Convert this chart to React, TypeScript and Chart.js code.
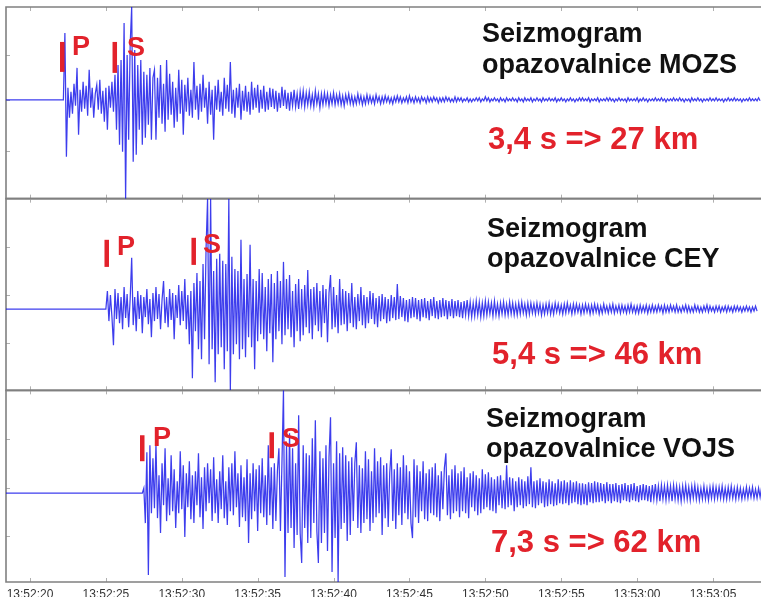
import React, { useEffect, useRef } from 'react';
import { Chart, registerables } from 'chart.js';

Chart.register(...registerables);

// ---- time axis (seconds after 13:52:00) ----
const clockHour = 13;
const clockMinute = 52;
const timeMin = 18.42;
const timeMax = 68.16;
const xTickValues = [20, 25, 30, 35, 40, 45, 50, 55, 60, 65];

// ---- stations ----
const stations = ['MOZS', 'CEY', 'VOJS'];
const onsetTimes = [22.2, 25.0, 27.4];
const sampleStep = 0.1;
const spDelays = ['3,4', '5,4', '7,3'];
const distancesKm = ['27', '46', '62'];
const pPickTimes = [22.11, 25.04, 27.38];
const sPickTimes = [25.57, 30.77, 35.91];

// ---- trace amplitudes, one sample every sampleStep s from onset ----
const mozsValues = [
  0, 67, -57, 12, -18, 8, -14, 16, -6, 32,
  -35, 10, -12, 18, -9, 14, -16, 30, -8, 12,
  -18, 6, 15, -10, 20, -14, 9, -22, 12, -30,
  14, -8, 18, -12, 25, -30, 35, -45, 40, -52,
  77, -99, 45, -40, 55, 93, -62, 50, -55, 35,
  -30, 40, -45, 28, -38, 25, -25, 32, -40, 22,
  30, -40, 22, -18, 35, -24, 16, -32, 40, -20,
  26, -15, 18, -28, 12, -22, 30, -14, 20, -35,
  15, -12, 22, -16, 10, -18, 38, -10, 14, -20,
  16, -12, 25, -8, 12, -24, 18, -15, 10, -40,
  14, -10, 20, -12, 8, -16, 22, -9, 15, -12,
  38, -14, 10, -18, 12, -8, 16, -20, 9, -11,
  14, -12, 8, -15, 18, -10, 12, -8, 15, -13,
  10, -9, 14, -12, 8, -10, 12, -7, 11, -9,
  9, -12, 7, -8, 13, -6, 10, -9, 7, -11,
  8, -6, 10, -7, 6, -9, 8, -5, 9, -7,
  7, -5, 8, -6, 5, -7, 9, -4, 6, -8,
  6, -5, 7, -4, 6, -6, 5, -4, 7, -5,
  5, -4, 6, -5, 4, -6, 5, -3, 6, -4,
  4, -5, 3, -4, 6, -3, 4, -5, 3, -4,
  5, -3, 4, -3, 3, -4, 5, -2, 3, -4,
  3, -3, 4, -2, 3, -3, 2, -4, 3, -2,
  4, -2, 3, -3, 2, -2, 3, -3, 4, -2,
  2, -3, 3, -2, 2, -3, 3, -1, 2, -3,
  3, -2, 2, -2, 3, -1, 2, -3, 2, -2,
  2, -2, 3, -1, 2, -2, 1, -2, 3, -2,
  2, -1, 2, -2, 1, -1, 2, -2, 1, -2,
  1, -1, 2, -1, 2, -2, 1, -1, 3, -1,
  2, -2, 1, -1, 2, -1, 1, -2, 2, -1,
  1, -2, 2, -1, 1, -1, 2, -1, 1, -2,
  2, -1, 1, -2, 2, -1, 1, -1, 2, -2,
  1, -1, 2, -1, 1, -2, 2, -1, 1, -1,
  2, -1, 1, -1, 2, -2, 1, -1, 2, -1,
  1, -2, 1, -1, 2, -1, 1, -2, 1, -1,
  2, -1, 2, -1, 1, -1, 2, -2, 1, -1,
  1, -1, 2, -2, 1, -1, 1, -1, 2, -1,
  2, -1, 1, -2, 1, -1, 2, -1, 1, -1,
  1, -2, 2, -1, 1, -1, 1, -1, 2, -2,
  1, -1, 2, -1, 1, -2, 1, -1, 1, -1,
  2, -1, 1, -1, 2, -1, 1, -2, 1, -1,
  1, -1, 2, -1, 1, -1, 2, -1, 1, -2,
  1, -1, 1, -2, 2, -1, 1, -1, 2, -1,
  1, -2, 1, -1, 1, -1, 2, -1, 1, -1,
  2, -1, 1, -1, 1, -2, 1, -1, 2, -1,
  1, -1, 2, -1, 1, -1, 1, -2, 1, -1,
  1, -1, 2, -1, 1, -1, 1, -1, 2, -1,
];

const ceyValues = [
  0, 18, -12, 14, -8, -36, 20, -10, 16, -14,
  12, -20, 22, -9, 15, -18, 10, 51, -16, 12,
  -22, 18, -10, 14, -24, 12, -8, 20, -15, 10,
  -28, 16, -12, 22, -10, 15, -20, 9, 28, -14,
  12, -18, 20, -11, 16, -30, 14, -9, 24, -16,
  18, -12, 30, -20, 14, -35, 18, -69, 26, -22,
  36, -40, 28, -50, 45, -30, 60, 110, -55, 110,
  -40, 38, -73, 50, -45, 55, -38, 48, -60, 45,
  -42, 110, -81, 52, -45, 40, -35, 38, -50, 69,
  -40, 30, -48, 35, -28, 64, -38, 30, -60, 28,
  -32, 40, -25, 36, -30, 22, -42, 30, -24, 35,
  -53, 26, -30, 38, -22, 28, -35, 47, -26, 30,
  -20, 34, -28, 18, -38, 25, -22, 30, -32, 20,
  -26, 24, -18, 39, -24, 20, -30, 22, -16, 26,
  -22, 18, -28, 24, -14, 20, -33, 16, 34, -20,
  22, -18, 14, -24, 30, -16, 20, -15, 18, -22,
  16, -14, 26, -18, 12, -20, 15, -12, 22, -16,
  14, -19, 12, -14, 18, -10, 16, -15, 11, -18,
  13, -12, 15, -10, 12, -14, 10, -12, 14, -9,
  12, -11, 25, -10, 13, -8, 11, -12, 9, -13,
  10, -9, 12, -8, 11, -10, 9, -12, 10, -8,
  11, -9, 8, -11, 10, -7, 12, -9, 8, -10,
  9, -8, 11, -7, 9, -10, 8, -7, 10, -9,
  8, -7, 9, -8, 7, -9, 8, -6, 9, -7,
  7, -8, 6, -7, 8, -6, 7, -8, 6, -7,
  8, -6, 7, -5, 6, -7, 8, -6, 5, -7,
  6, -5, 7, -6, 5, -6, 7, -5, 6, -6,
  5, -6, 6, -5, 7, -4, 5, -6, 6, -5,
  6, -4, 5, -5, 6, -4, 5, -6, 4, -5,
  5, -4, 6, -5, 4, -5, 6, -3, 5, -4,
  4, -5, 5, -4, 6, -3, 4, -5, 5, -4,
  5, -3, 4, -5, 4, -4, 5, -3, 4, -5,
  4, -4, 5, -3, 4, -5, 3, -4, 5, -3,
  3, -4, 4, -3, 5, -4, 3, -3, 4, -4,
  4, -3, 3, -4, 4, -3, 5, -3, 3, -4,
  3, -4, 4, -3, 3, -3, 4, -4, 3, -3,
  4, -3, 3, -3, 4, -2, 3, -4, 4, -3,
  3, -3, 4, -2, 3, -3, 4, -3, 2, -3,
  3, -2, 4, -3, 3, -3, 2, -3, 4, -2,
  3, -3, 2, -3, 3, -2, 4, -3, 3, -2,
  2, -3, 3, -2, 3, -3, 2, -2, 3, -3,
  3, -2, 2, -3, 3, -2, 3, -2, 2, -3,
  2, -2, 3, -2, 2, -3, 2, -2, 3, -2,
];

const vojsValues = [
  0, 5, -30, 41, -82, 48, -20, 35, -15, 50,
  -25, 18, -40, 30, -12, 45, -28, 15, -22, 38,
  -18, 24, -35, 12, -20, 42, -16, 28, -44, 20,
  -14, 32, -26, 18, -30, 22, -12, 40, -24, 16,
  -36, 26, -18, 30, -10, 24, -28, 36, -20, 14,
  -30, 22, -16, 38, -25, 12, -32, 26, -18, 30,
  -22, 42, -14, 20, -34, 28, -24, 16, -28, 34,
  -50, 20, -26, 30, -18, 24, -38, 28, -20, 35,
  -24, 18, -32, 48, -22, 26, -36, 30, -28, 22,
  45, -38, 30, 103, -84, 50, -40, 60, -35, 45,
  -55, 30, -42, 78, -40, -70, 48, -35, 40, -50,
  38, -45, 55, -30, 73, -38, -70, 42, -50, 35,
  -40, 48, -58, 36, 76, -79, 30, -45, 52, -89,
  40, -36, 46, -30, 38, -48, 32, -42, 36, -28,
  30, 51, -35, 28, -40, 25, -30, 42, -26, 34,
  -38, 22, -30, 45, -24, 32, -20, 36, -42, 28,
  -25, 30, -34, 20, 44, -28, 24, -36, 30, -22,
  26, -32, 38, -20, 28, -26, 22, -30, -45, 34,
  -24, 28, -30, 22, -18, 32, -26, 20, -28, 24,
  -20, 26, -22, 30, -24, 18, -28, 22, -16, 25,
  40, -22, 18, -26, 24, -20, 28, -18, 20, -24,
  22, -18, 26, -20, 16, -25, 20, -14, 22, -18,
  18, -22, 15, -20, 24, -16, 19, -14, 21, -17,
  16, -18, 14, -20, 17, -12, 18, -15, 13, -16,
  28, -14, 16, -12, 15, -18, 12, -14, 16, -12,
  14, -15, 12, -13, 17, -11, 26, -14, 12, -15,
  13, -12, 15, -10, 12, -14, 11, -13, 14, -11,
  12, -13, 10, -12, 14, -10, 12, -11, 13, -10,
  11, -12, 13, -10, 11, -9, 12, -11, 10, -12,
  10, -11, 9, -12, 11, -9, 10, -10, 12, -9,
  11, -9, 10, -8, 9, -10, 11, -8, 9, -10,
  9, -8, 10, -9, 8, -10, 9, -7, 10, -8,
  8, -9, 9, -7, 10, -8, 7, -9, 8, -7,
  9, -7, 8, -8, 7, -9, 8, -6, 9, -7,
  7, -8, 8, -6, 7, -7, 8, -6, 7, -8,
  8, -6, 7, -7, 6, -8, 7, -6, 8, -6,
  6, -7, 7, -5, 8, -6, 6, -7, 5, -6,
  7, -6, 5, -7, 6, -5, 7, -6, 6, -5,
  6, -5, 7, -6, 5, -6, 6, -5, 7, -5,
  5, -6, 6, -5, 5, -6, 4, -5, 6, -5,
  5, -4, 6, -5, 4, -5, 5, -4, 6, -4,
];

// unlabeled tick marks on the left edge of each panel
const yTicksMozs = [45, 0, -51];
const yTicksCey = [62, 14, -34];
const yTicksVojs = [54, 5, -43];

// ---- layout / style ----
const FONT = '"Liberation Sans", Arial, Helvetica, sans-serif';
const RED = '#e2222b';
const TRACE = 'rgba(12, 12, 232, 0.8)';

const panelAxes = ['yMozs', 'yCey', 'yVojs'];
const panelRanges = [
  [-99, 93],
  [-81, 110],
  [-89, 103],
];
const panelTicks = [yTicksMozs, yTicksCey, yTicksVojs];
const traceValues = [mozsValues, ceyValues, vojsValues];

const annot = [
  { titleTime: 49.78, line1: 58, line2: 27, distTime: 50.17, distY: -49, pBar: [58, 28], pLT: 22.77, pLY: 45, sBar: [58, 27], sLT: 26.39, sLY: 44 },
  { titleTime: 50.11, line1: 72, line2: 42, distTime: 50.44, distY: -55, pBar: [69, 42], pLT: 25.73, pLY: 54, sBar: [71, 44], sLT: 31.4, sLY: 56 },
  { titleTime: 50.04, line1: 66, line2: 36, distTime: 50.37, distY: -59, pBar: [58, 32], pLT: 28.1, pLY: 47, sBar: [61, 35], sLT: 36.6, sLY: 46 },
];

function pad2(n: number) {
  return String(n).padStart(2, '0');
}

function clockLabel(v: number) {
  const total = clockMinute * 60 + Math.round(v);
  const m = Math.floor(total / 60);
  const s = total % 60;
  return `${clockHour}:${pad2(m)}:${pad2(s)}`;
}

function traceData(onset: number, values: number[]) {
  const pts = [{ x: timeMin, y: 0 }];
  values.forEach((v, i) => pts.push({ x: onset + i * sampleStep, y: v }));
  return pts;
}

function yScale(min: number, max: number) {
  return {
    type: 'linear',
    position: 'left',
    stack: 'seis',
    stackWeight: 1,
    min,
    max,
    display: false,
  };
}

const seisPlugin = {
  id: 'seisFrame',
  beforeDatasetsDraw(chart: any) {
    const { ctx, chartArea, scales } = chart;
    const xs = scales.x;
    ctx.save();
    panelAxes.forEach((id, p) => {
      const ys = scales[id];
      ctx.strokeStyle = '#b0b0b0';
      ctx.lineWidth = 1;
      xTickValues.forEach((v) => {
        const px = Math.round(xs.getPixelForValue(v)) + 0.5;
        ctx.beginPath();
        ctx.moveTo(px, ys.top);
        ctx.lineTo(px, ys.top + 4);
        ctx.moveTo(px, ys.bottom);
        ctx.lineTo(px, ys.bottom - 4);
        ctx.stroke();
      });
      panelTicks[p].forEach((v) => {
        const py = Math.round(ys.getPixelForValue(v)) + 0.5;
        ctx.beginPath();
        ctx.moveTo(chartArea.left, py);
        ctx.lineTo(chartArea.left + 4, py);
        ctx.stroke();
      });
      ctx.strokeStyle = '#808080';
      ctx.lineWidth = 1.6;
      ctx.beginPath();
      ctx.moveTo(chartArea.right + 2, ys.top);
      ctx.lineTo(chartArea.left, ys.top);
      ctx.lineTo(chartArea.left, ys.bottom);
      ctx.lineTo(chartArea.right + 2, ys.bottom);
      ctx.stroke();
    });
    ctx.restore();
  },
  afterDatasetsDraw(chart: any) {
    const { ctx, scales } = chart;
    const xs = scales.x;
    ctx.save();
    ctx.textAlign = 'left';
    ctx.textBaseline = 'alphabetic';
    panelAxes.forEach((id, p) => {
      const ys = scales[id];
      const a = annot[p];
      ctx.fillStyle = '#111';
      ctx.font = `bold 27px ${FONT}`;
      ctx.fillText('Seizmogram', xs.getPixelForValue(a.titleTime), ys.getPixelForValue(a.line1));
      ctx.fillText(`opazovalnice ${stations[p]}`, xs.getPixelForValue(a.titleTime), ys.getPixelForValue(a.line2));
      ctx.fillStyle = RED;
      ctx.font = `bold 31px ${FONT}`;
      ctx.fillText(`${spDelays[p]} s => ${distancesKm[p]} km`, xs.getPixelForValue(a.distTime), ys.getPixelForValue(a.distY));
      ctx.font = `bold 27px ${FONT}`;
      const picks: [number, number[], string, number, number][] = [
        [pPickTimes[p], a.pBar, 'P', a.pLT, a.pLY],
        [sPickTimes[p], a.sBar, 'S', a.sLT, a.sLY],
      ];
      picks.forEach(([t, bar, letter, lt, ly]) => {
        const cx = xs.getPixelForValue(t);
        const y0 = ys.getPixelForValue(bar[0]);
        const y1 = ys.getPixelForValue(bar[1]);
        ctx.fillRect(cx - 2, y0, 4.5, y1 - y0);
        ctx.fillText(letter, xs.getPixelForValue(lt), ys.getPixelForValue(ly));
      });
    });
    ctx.restore();
  },
};

export default function App() {
  const ref = useRef<HTMLCanvasElement>(null);

  useEffect(() => {
    const canvas = ref.current;
    if (!canvas) return;
    const datasets = panelAxes.map((id, p) => ({
      label: stations[p],
      data: traceData(onsetTimes[p], traceValues[p]),
      yAxisID: id,
      xAxisID: 'x',
      borderColor: TRACE,
      borderWidth: 1.25,
      pointRadius: 0,
      tension: 0,
      fill: false,
    }));
    const chart = new Chart(canvas, {
      type: 'line',
      data: { datasets },
      options: {
        responsive: false,
        animation: false,
        events: [],
        layout: { padding: { left: 6, right: 0, top: 7, bottom: 0 } },
        plugins: {
          legend: { display: false },
          tooltip: { enabled: false },
        },
        scales: {
          x: {
            type: 'linear',
            position: 'bottom',
            min: timeMin,
            max: timeMax,
            afterBuildTicks: (s: any) => {
              s.ticks = xTickValues.map((v) => ({ value: v }));
            },
            afterFit: (s: any) => {
              s.height = 15;
              s.paddingLeft = 0;
              s.paddingRight = 0;
            },
            grid: { display: false, drawTicks: true, tickLength: 5 },
            border: { display: false },
            ticks: {
              autoSkip: false,
              maxRotation: 0,
              padding: 0,
              color: '#333',
              font: { family: FONT, size: 12 },
              callback: (v: any) => clockLabel(Number(v)),
            },
          },
          yVojs: yScale(panelRanges[2][0], panelRanges[2][1]),
          yCey: yScale(panelRanges[1][0], panelRanges[1][1]),
          yMozs: yScale(panelRanges[0][0], panelRanges[0][1]),
        } as any,
      },
      plugins: [seisPlugin],
    } as any);
    return () => chart.destroy();
  }, []);

  return (
    <div style={{ position: 'absolute', left: 0, top: 0, width: 761, height: 597, background: '#fff' }}>
      <canvas ref={ref} width={761} height={597} style={{ display: 'block' }} />
    </div>
  );
}
